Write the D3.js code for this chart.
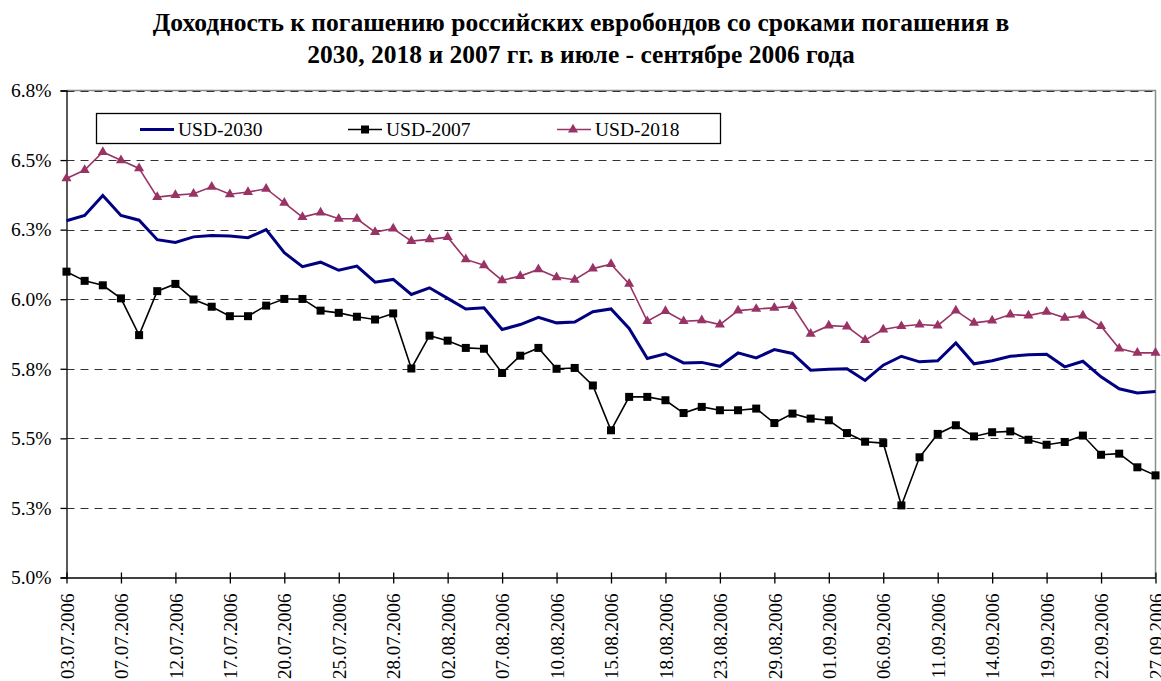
<!DOCTYPE html>
<html>
<head>
<meta charset="utf-8">
<script src="https://cdn.jsdelivr.net/npm/d3@7"></script>
<style>
  body { margin: 0; background: #fff; }
  svg text { font-family: "Liberation Serif", "Times New Roman", serif; }
</style>
</head>
<body>
<div id="container"></div>
<script>
let w = 1161;
let h = 681;

const dates = [
  "03.07.2006", "05.07.2006", "06.07.2006", "07.07.2006", "10.07.2006", "11.07.2006",
  "12.07.2006", "13.07.2006", "14.07.2006", "17.07.2006", "18.07.2006", "19.07.2006",
  "20.07.2006", "21.07.2006", "24.07.2006", "25.07.2006", "26.07.2006", "27.07.2006",
  "28.07.2006", "31.07.2006", "01.08.2006", "02.08.2006", "03.08.2006", "04.08.2006",
  "07.08.2006", "08.08.2006", "09.08.2006", "10.08.2006", "11.08.2006", "14.08.2006",
  "15.08.2006", "16.08.2006", "17.08.2006", "18.08.2006", "21.08.2006", "22.08.2006",
  "23.08.2006", "24.08.2006", "25.08.2006", "29.08.2006", "30.08.2006", "31.08.2006",
  "01.09.2006", "04.09.2006", "05.09.2006", "06.09.2006", "07.09.2006", "08.09.2006",
  "11.09.2006", "12.09.2006", "13.09.2006", "14.09.2006", "15.09.2006", "18.09.2006",
  "19.09.2006", "20.09.2006", "21.09.2006", "22.09.2006", "25.09.2006", "26.09.2006",
  "27.09.2006"
];

const usd2030 = [
  6.282, 6.301, 6.373, 6.301, 6.284, 6.214, 6.204, 6.224, 6.229, 6.227, 6.221, 6.250,
  6.167, 6.117, 6.133, 6.104, 6.119, 6.061, 6.071, 6.017, 6.041, 6.003, 5.965, 5.969,
  5.891, 5.909, 5.935, 5.915, 5.918, 5.955, 5.965, 5.895, 5.787, 5.804, 5.771, 5.773,
  5.759, 5.807, 5.789, 5.819, 5.805, 5.745, 5.748, 5.750, 5.708, 5.763, 5.795, 5.775,
  5.779, 5.843, 5.768, 5.779, 5.795, 5.800, 5.802, 5.757, 5.777, 5.721, 5.678, 5.663,
  5.668
];

const usd2007 = [
  6.099, 6.066, 6.050, 6.003, 5.871, 6.029, 6.055, 5.999, 5.973, 5.939, 5.939, 5.977,
  6.001, 6.001, 5.959, 5.951, 5.937, 5.927, 5.949, 5.751, 5.869, 5.851, 5.825, 5.822,
  5.735, 5.797, 5.825, 5.750, 5.753, 5.690, 5.529, 5.649, 5.649, 5.637, 5.591, 5.613,
  5.601, 5.601, 5.607, 5.555, 5.589, 5.571, 5.565, 5.519, 5.488, 5.483, 5.259, 5.432,
  5.516, 5.547, 5.507, 5.522, 5.525, 5.495, 5.477, 5.487, 5.510, 5.441, 5.445, 5.396,
  5.367
];

const usd2018 = [
  6.434, 6.464, 6.529, 6.499, 6.470, 6.367, 6.374, 6.379, 6.404, 6.377, 6.385, 6.397,
  6.346, 6.295, 6.311, 6.289, 6.289, 6.241, 6.254, 6.209, 6.215, 6.223, 6.143, 6.122,
  6.068, 6.083, 6.107, 6.079, 6.070, 6.110, 6.126, 6.055, 5.921, 5.957, 5.921, 5.924,
  5.909, 5.959, 5.965, 5.969, 5.975, 5.876, 5.905, 5.902, 5.853, 5.891, 5.903, 5.909,
  5.905, 5.959, 5.915, 5.923, 5.945, 5.941, 5.955, 5.933, 5.941, 5.903, 5.823, 5.807,
  5.807
];

const yTicks = [5.0, 5.25, 5.5, 5.75, 6.0, 6.25, 6.5, 6.75];
const seriesNames = ["USD-2030", "USD-2007", "USD-2018"];
const titleLines = [
  "Доходность к погашению российских евробондов со сроками погашения в",
  "2030, 2018 и 2007 гг. в июле - сентябре 2006 года"
];

const serif = "'Liberation Serif', 'Times New Roman', serif";
const plotLeft = 66.5, plotRight = 1155.5, plotTop = 90.5, plotBottom = 577.5;

const x = d3.scalePoint().domain(dates).range([plotLeft, plotRight]);
const y = d3.scaleLinear().domain([5.0, 6.75]).range([plotBottom, plotTop]);

const viz = d3.select("#container")
  .append("svg")
  .attr("width", w)
  .attr("height", h)
  .style("background-color", "white");

// title
viz.append("text")
  .attr("x", 581)
  .attr("y", 31)
  .attr("text-anchor", "middle")
  .attr("font-family", serif)
  .attr("font-weight", "bold")
  .attr("font-size", 25.5)
  .selectAll("tspan")
  .data(titleLines)
  .join("tspan")
  .attr("x", 581)
  .attr("dy", (d, i) => i === 0 ? 0 : 32)
  .text(d => d);

// plot border (top and right, gray)
viz.append("path")
  .attr("d", `M${plotLeft},${plotTop}H${plotRight}V${plotBottom}`)
  .attr("fill", "none")
  .attr("stroke", "#8c8c8c")
  .attr("stroke-width", 1.5);

// gridlines
viz.append("g")
  .selectAll("line")
  .data(yTicks.slice(1))
  .join("line")
  .attr("x1", plotLeft)
  .attr("x2", plotRight)
  .attr("y1", d => Math.round(y(d)) + 0.5)
  .attr("y2", d => Math.round(y(d)) + 0.5)
  .attr("stroke", "#333")
  .attr("stroke-width", 1)
  .attr("stroke-dasharray", "8,6");

// y axis
let yAxis = viz.append("g")
  .attr("transform", `translate(${plotLeft},0)`)
  .call(d3.axisLeft(y).tickValues(yTicks).tickSize(6).tickPadding(9)
    .tickFormat(d => d.toFixed(1) + "%"))
  .attr("font-family", serif)
  .attr("font-size", 19.5);
yAxis.selectAll("text").attr("fill", "black");
yAxis.selectAll("line, path").attr("stroke", "black").attr("stroke-width", 1.3);

// x axis
let xAxis = viz.append("g")
  .attr("transform", `translate(0,${plotBottom})`)
  .call(d3.axisBottom(x).tickValues(dates.filter((d, i) => i % 3 === 0)).tickSize(6).tickSizeOuter(0))
  .attr("font-family", serif)
  .attr("font-size", 19);
xAxis.selectAll(".tick").append("line").attr("y2", -5);
xAxis.selectAll("line, path").attr("stroke", "black").attr("stroke-width", 1.3);
xAxis.selectAll("text")
  .attr("fill", "black")
  .attr("transform", "rotate(-90)")
  .attr("x", -16)
  .attr("y", 0)
  .attr("dy", "0.35em")
  .attr("text-anchor", "end");

// lines
const line = d3.line().x((d, i) => x(dates[i])).y(d => y(d));

viz.append("path")
  .datum(usd2018)
  .attr("d", line)
  .attr("fill", "none")
  .attr("stroke", "#993366")
  .attr("stroke-width", 1.6);

viz.append("path")
  .datum(usd2007)
  .attr("d", line)
  .attr("fill", "none")
  .attr("stroke", "black")
  .attr("stroke-width", 1.6);

viz.append("path")
  .datum(usd2030)
  .attr("d", line)
  .attr("fill", "none")
  .attr("stroke", "#000080")
  .attr("stroke-width", 3);

// markers
const tri = d3.symbol().type(d3.symbolTriangle).size(44);

viz.append("g")
  .selectAll("path")
  .data(usd2018)
  .join("path")
  .attr("d", tri)
  .attr("transform", (d, i) => `translate(${x(dates[i])},${y(d)})`)
  .attr("fill", "#993366");

viz.append("g")
  .selectAll("rect")
  .data(usd2007)
  .join("rect")
  .attr("x", (d, i) => x(dates[i]) - 4)
  .attr("y", d => y(d) - 4)
  .attr("width", 8)
  .attr("height", 8)
  .attr("fill", "black");

// legend
let legend = viz.append("g").attr("font-family", serif);
legend.append("rect")
  .attr("x", 96.5)
  .attr("y", 113.5)
  .attr("width", 624)
  .attr("height", 30)
  .attr("fill", "white")
  .attr("stroke", "black")
  .attr("stroke-width", 1.3);

const legendX = [140, 348, 557];
const legendColor = ["#000080", "black", "#993366"];
const legendWidth = [3, 1.6, 1.6];
const ly = 129.5;

seriesNames.forEach((name, i) => {
  legend.append("line")
    .attr("x1", legendX[i])
    .attr("x2", legendX[i] + 34)
    .attr("y1", ly)
    .attr("y2", ly)
    .attr("stroke", legendColor[i])
    .attr("stroke-width", legendWidth[i]);
  legend.append("text")
    .attr("x", legendX[i] + 38)
    .attr("y", ly)
    .attr("dy", "0.35em")
    .attr("font-size", 19.5)
    .text(name);
});

legend.append("rect")
  .attr("x", legendX[1] + 17 - 4)
  .attr("y", ly - 4)
  .attr("width", 8)
  .attr("height", 8)
  .attr("fill", "black");

legend.append("path")
  .attr("d", tri)
  .attr("transform", `translate(${legendX[2] + 16},${ly})`)
  .attr("fill", "#993366");
</script>
</body>
</html>
